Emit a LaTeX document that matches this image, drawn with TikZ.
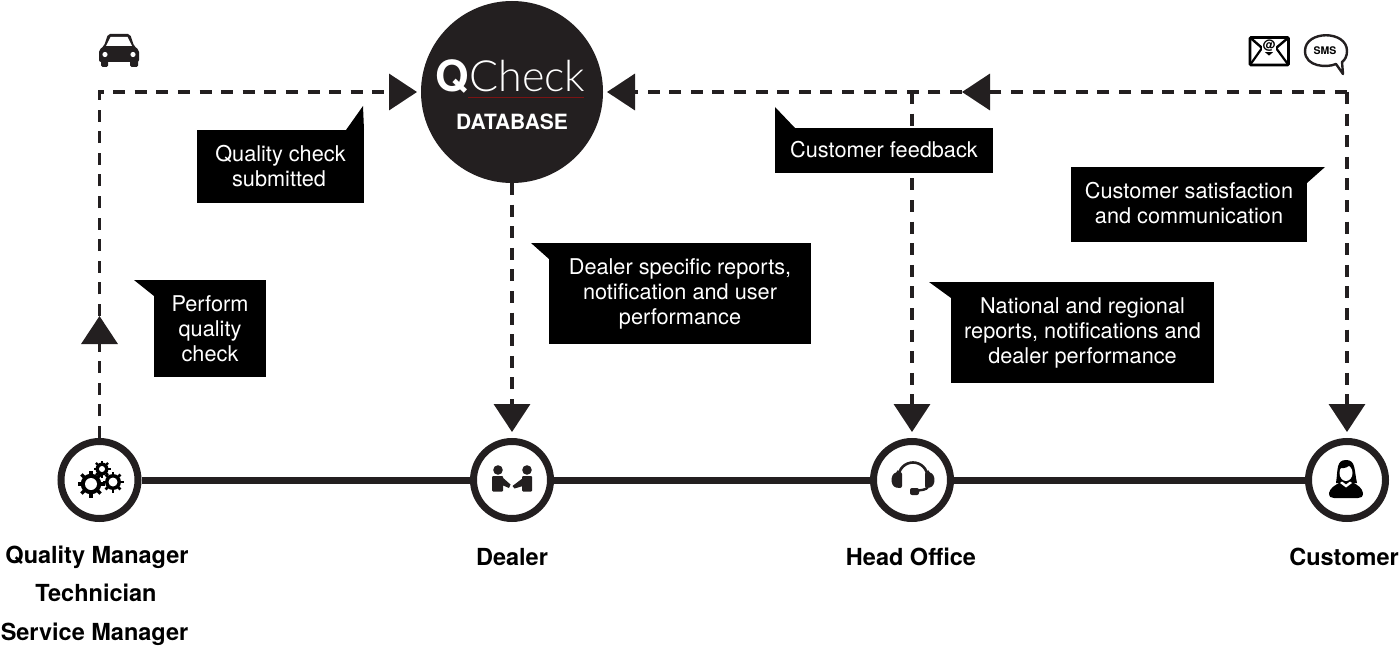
\documentclass[tikz,border=0pt]{standalone}
\usepackage{fontspec}
\setmainfont{TeX Gyre Heros}
\newfontfamily\qlight{Lato Light}
\usetikzlibrary{arrows.meta,calc}
\definecolor{ink}{HTML}{231F20}
\newcommand{\mygear}[5]{%
  \foreach \a in {1,...,#5}{\fill[black,rotate around={\a*360/#5:(#1,#2)}] ($(#1,#2)+(-0.13*#3,0)$) rectangle ($(#1,#2)+(0.13*#3,-#3)$);}
  \fill[black] (#1,#2) circle[radius=0.76*#3];
  \fill[white] (#1,#2) circle[radius=#4];}
\tikzset{
  callout/.style={fill=black,text=white,align=center,inner sep=0pt,outer sep=0pt,font=\fontsize{21.7}{25}\selectfont},
  tailfill/.style={fill=black},
  ring/.style={circle,draw=ink,fill=white,line width=7pt,minimum size=77pt,inner sep=0pt},
  person/.style={font=\fontsize{23.5}{25}\bfseries\selectfont,text=black,inner sep=0pt,anchor=base},
  link/.style={draw=ink,line width=7pt},
  flow/.style={draw=ink,line width=3.6pt,dash pattern=on 12pt off 9.6pt},
  flowtip/.style={flow,-{Triangle[length=28pt,width=36pt,fill=ink]}},
  iconfill/.style={fill=ink},
}
\begin{document}
\begin{tikzpicture}[x=1pt,y=-1pt]
\useasboundingbox (0,0) rectangle (1400,650);
% main nodes
\node[circle,fill=ink,minimum size=182pt,inner sep=0pt,outer sep=0pt] (db) at (512,92) {};
\node[ring] (qm) at (99.5,480) {};
\node[ring] (dealer) at (512,480) {};
\node[ring] (head) at (912,480) {};
\node[ring] (cust) at (1347,480) {};
\coordinate (cornerL) at (99.5,92);
\coordinate (midL) at (99.5,316);
\coordinate (cornerR) at (1347,92);
\coordinate (midR) at (962,92);
\coordinate (junction) at (912,92);
% solid line
\draw[link] (qm) -- (dealer);
\draw[link] (dealer) -- (head);
\draw[link] (head) -- (cust);
% flows
\draw[flowtip] (qm.north) -- (midL);
\draw[flowtip,shorten >=4pt] (midL) -- (cornerL) -- (db.west);
\draw[flowtip,shorten >=4pt] (midR) -- (db.east);
\draw[flowtip] (cornerR) -- (midR);
\draw[flowtip,shorten >=6pt] (cornerR) -- (cust.north);
\draw[flowtip,shorten >=6pt] (junction) -- (head.north);
\draw[flowtip,shorten >=6pt] (db.south) -- (dealer.north);
% database text
\node[text=white,inner sep=0pt,anchor=base] (qc) at (510.5,92) {\fontsize{43}{43}\selectfont{\bfseries Q}{\qlight Check}};
\draw[draw=ink!60!red,line width=.5pt] (468,97) -- (584,97);
\node[text=white,inner sep=0pt,font=\fontsize{21}{21}\bfseries\selectfont] (dbl) at (512,122) {DATABASE};
% callouts
\node[callout,minimum width=167pt,minimum height=73pt] (c1) at (280.5,166.5) {Quality check\\submitted\hspace*{3pt}};
\fill[tailfill] (c1.north east) -- ++(-18,0) -- (363,106) -- cycle;
\node[callout,minimum width=112pt,minimum height=97pt] (c2) at (210,328.5) {Perform\\quality\\check};
\fill[tailfill] (c2.north west) -- (134,280) -- ($(c2.north west)+(0,16)$) -- cycle;
\node[callout,minimum width=262pt,minimum height=101pt] (c3) at (680,293.5) {Dealer specific reports,\\notification and user\\performance};
\fill[tailfill] (c3.north west) -- (531,243) -- ($(c3.north west)+(0,16)$) -- cycle;
\node[callout,minimum width=218pt,minimum height=45pt] (c4) at (884,150.5) {Customer feedback\rule[-2pt]{0pt}{2pt}};
\fill[tailfill] (c4.north west) -- (775,107) -- ($(c4.north west)+(20,0)$) -- cycle;
\node[callout,minimum width=236pt,minimum height=75pt] (c5) at (1189,204.5) {Customer satisfaction\\and communication\rule[-4pt]{0pt}{4pt}};
\fill[tailfill] (c5.north east) -- (1325,167) -- ($(c5.north east)+(0,16)$) -- cycle;
\node[callout,minimum width=263pt,minimum height=101pt] (c6) at (1082.5,332.5) {National and regional\\reports, notifications and\\dealer performance};
\fill[tailfill] (c6.north west) -- (929,282) -- ($(c6.north west)+(0,16)$) -- cycle;
% person labels
\node[person] (l1) at (97,563) {Quality Manager};
\node[person] (l2) at (96,601) {Technician};
\node[person] (l3) at (94.5,640) {Service Manager};
\node[person] (l4) at (512,565) {Dealer};
\node[person] (l5) at (911,565) {Head Office};
\node[person] (l6) at (1344,565) {Customer};
% car icon
\fill[iconfill,rounded corners=2pt] (99,62) -- (99,50) -- (104,46) -- (108,34) -- (130,34) -- (134,46) -- (139,50) -- (139,62) -- cycle;
\fill[iconfill,rounded corners=1.5pt] (101,60) rectangle (108,67);
\fill[iconfill,rounded corners=1.5pt] (130,60) rectangle (138,67);
\fill[white] (106,46) -- (110.5,37) -- (127.5,37) -- (132,46) -- cycle;
\fill[white] (105,54.5) circle[radius=2.6];
\fill[white] (133,54.5) circle[radius=2.6];
% envelope icon
\draw[black,line width=2.8pt,rounded corners=1pt] (1250,37.5) rectangle (1288.5,65);
\draw[black,line width=2.4pt] (1250,37.5) -- (1269,54) -- (1288.5,37.5);
\draw[black,line width=2.2pt] (1250,65) -- (1262,48);
\draw[black,line width=2.2pt] (1288.5,65) -- (1276,48);
\node[fill=white,inner sep=.6pt,text=black,font=\fontsize{13}{13}\bfseries\selectfont] (at) at (1269,46) {@};
% sms icon
\draw[ink,line width=2.4pt,fill=white,line join=round] (1336,64) .. controls (1327,68) and (1305,67) .. (1305,51) .. controls (1305,30) and (1347,30) .. (1347,51) .. controls (1347,56) and (1345,60) .. (1342,62) -- (1343,74) -- cycle;
\node[text=black,inner sep=0pt,font=\fontsize{10.5}{10.5}\bfseries\selectfont] (sms) at (1325,50.5) {SMS};
% gears
\mygear{102}{469}{8.5}{3}{8}
\mygear{113}{482}{10.5}{4.5}{8}
\mygear{91}{484}{13.5}{6}{8}
% handshake
\fill[iconfill] (498,470) circle[radius=4.8];
\fill[iconfill] (527,470) circle[radius=4.8];
\fill[iconfill,rounded corners=1pt] (492,476) rectangle (503,491.5);
\fill[iconfill,rounded corners=1pt] (522,476) rectangle (532,491.5);
\fill[iconfill] (502,477) -- (510.5,484.5) -- (509,488) -- (502,485) -- cycle;
\fill[iconfill] (523,478) -- (512.5,486) -- (514.5,488.5) -- (523,486) -- cycle;
% headset
\draw[ink,line width=2.6pt] (898.5,477) arc[start angle=180,end angle=360,radius=14.5];
\fill[iconfill,rounded corners=2pt] (898,472) -- (902,472) -- (902,488) -- (898,488) .. controls (890,486) and (890,474) .. (898,472) -- cycle;
\fill[iconfill,rounded corners=2pt] (928,472) -- (925,472) -- (925,488) -- (928,488) .. controls (936,486) and (936,474) .. (928,472) -- cycle;
\draw[ink,line width=2.4pt] (928,487) .. controls (926,490) and (922,490) .. (914,491);
\fill[iconfill,rounded corners=2pt] (910,488) rectangle (919,495);
% customer
\fill[black] (1336,483) .. controls (1338,470) and (1336,460) .. (1346,460) .. controls (1356,460) and (1354,470) .. (1357,483) -- cycle;
\fill[white] (1346,473) ellipse[x radius=6.5,y radius=8];
\fill[black] (1339,468) .. controls (1344,469) and (1349,467) .. (1350.5,464) -- (1346,461) -- cycle;
\fill[black] (1329,493) .. controls (1330,488) and (1335,485) .. (1341,482) -- (1352,482) .. controls (1358,485) and (1362,488) .. (1363,493) .. controls (1363,497) and (1361,498) .. (1358,498) -- (1334,498) .. controls (1331,498) and (1329,497) .. (1329,493) -- cycle;
\fill[white] (1340,483) -- (1346,487.5) -- (1352,483) -- (1350,481.5) -- (1346,484.5) -- (1342,481.5) -- cycle;
\end{tikzpicture}
\end{document}
